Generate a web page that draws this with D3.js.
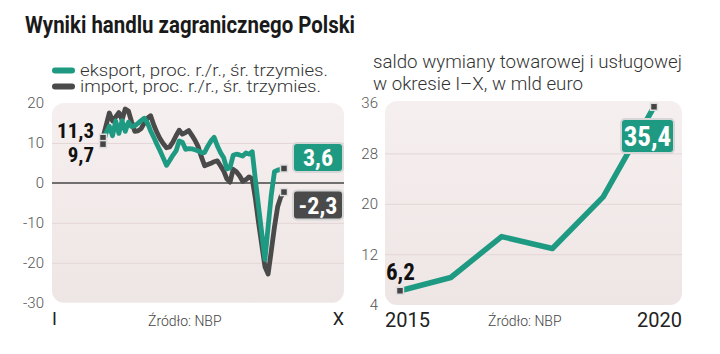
<!DOCTYPE html>
<html>
<head>
<meta charset="utf-8">
<script src="https://cdn.jsdelivr.net/npm/d3@7"></script>
<style>
  body { margin: 0; background: #fff; }
  svg { display: block; }
  .cond { font-family: "Roboto Condensed", "Liberation Sans Narrow", "DejaVu Sans Condensed", Roboto, sans-serif; font-weight: bold; }
  .thin { font-family: Roboto, "Noto Sans", sans-serif; font-weight: 300; }
</style>
</head>
<body>
<svg width="720" height="354"></svg>
<script>
// eksport / import, proc. r/r, srednia trzymiesieczna (miesiecznie)
const exportData = [9.7, 12.5, 14.2, 11.8, 15.5, 12.4, 15.6, 12.9, 15.2, 14.1,
    14.3, 14.9, 15.6, 16.2, 15.0, 13.0, 11.4, 9.6, 8.0, 6.2,
    4.4, 5.6, 6.9, 8.0, 10.5, 10.2, 8.4, 8.6, 8.5, 8.3,
    8.0, 7.6, 7.6, 9.2, 10.5, 11.4, 9.3, 7.6, 6.3, 3.5,
    3.8, 6.9, 7.2, 7.0, 6.7, 7.5, 7.2, 7.8, 0.7, -6.0,
    -12.6, -19.2, -11.0, -3.0, 2.8, 3.2, 3.4, 3.6];
const importData = [11.3, 14.5, 17.5, 15.5, 16.5, 17.6, 15.8, 18.5, 18.0, 15.3,
    12.9, 13.0, 13.6, 15.0, 16.2, 16.8, 14.5, 12.6, 11.0, 9.8,
    8.8, 9.0, 10.2, 11.8, 13.2, 12.2, 12.6, 13.1, 11.9, 10.6,
    9.0, 6.5, 4.3, 4.6, 4.9, 5.3, 5.5, 4.3, 3.0, 1.0,
    0.2, 3.4, 2.8, 1.8, 0.4, 0.8, 1.5, 1.0, -4.0, -10.0,
    -15.5, -21.0, -22.8, -17.0, -11.0, -6.0, -3.5, -2.3];
const leftTicks = [20, 10, 0, -10, -20, -30];

// saldo wymiany towarowej i uslugowej, I-X, mld euro
const years = [2015, 2016, 2017, 2018, 2019, 2020];
const saldo = [6.2, 8.3, 14.8, 12.9, 21.1, 35.4];
const rightTicks = [36, 28, 20, 12, 4];

const green = "#1f9a82";
const dark = "#4a4a4a";

const pl = d3.formatLocale({decimal: ",", thousands: " ", grouping: [3], currency: ["", " zł"], minus: "-"});
const fmt = pl.format(".1f");
const tickFmt = pl.format("d");

const svg = d3.select("svg");

const defs = svg.append("defs");
const grad = defs.append("linearGradient").attr("id", "bg").attr("x1", 0).attr("y1", 0).attr("x2", 0).attr("y2", 1);
grad.append("stop").attr("offset", "0%").attr("stop-color", "#f6efef");
grad.append("stop").attr("offset", "100%").attr("stop-color", "#eee6e5");

// title + legend
svg.append("text").attr("x", 25).attr("y", 33)
    .attr("font-family", "Roboto, sans-serif").attr("font-weight", "bold").attr("font-size", 23)
    .attr("fill", "#1a1a1a").attr("textLength", 330).attr("lengthAdjust", "spacingAndGlyphs")
    .text("Wyniki handlu zagranicznego Polski");

var legend = [
    {label: "eksport, proc. r./r., śr. trzymies.", color: green, y: 70.5, len: 248},
    {label: "import, proc. r./r., śr. trzymies.", color: dark, y: 86.5, len: 241}
];
legend.forEach(function (d) {
    svg.append("line").attr("x1", 55).attr("x2", 72).attr("y1", d.y).attr("y2", d.y)
        .attr("stroke", d.color).attr("stroke-width", 6).attr("stroke-linecap", "round");
    svg.append("text").attr("class", "thin").attr("x", 80).attr("y", d.y + 5.5)
        .attr("font-size", 16).attr("fill", "#333")
        .attr("textLength", d.len).attr("lengthAdjust", "spacingAndGlyphs")
        .text(d.label);
});

svg.append("text").attr("class", "thin").attr("x", 373).attr("y", 68)
    .attr("font-size", 18).attr("fill", "#333")
    .attr("textLength", 309).attr("lengthAdjust", "spacingAndGlyphs")
    .text("saldo wymiany towarowej i usługowej");
svg.append("text").attr("class", "thin").attr("x", 373).attr("y", 90)
    .attr("font-size", 18).attr("fill", "#333")
    .attr("textLength", 210).attr("lengthAdjust", "spacingAndGlyphs")
    .text("w okresie I–X, w mld euro");

// ---------- left chart ----------
const L = {left: 52, right: 344};
const yL = d3.scaleLinear().domain([-30, 20]).range([302.7, 103]);
const xL = d3.scaleLinear().domain([0, exportData.length - 1]).range([103, 284]);

svg.append("rect").attr("x", L.left).attr("y", yL(20)).attr("width", L.right - L.left)
    .attr("height", yL(-30) - yL(20)).attr("rx", 12).attr("fill", "url(#bg)");

const axL = svg.append("g").attr("transform", `translate(${L.left},0)`)
    .call(d3.axisLeft(yL).tickValues(leftTicks).tickFormat(tickFmt)
        .tickSize(-(L.right - L.left)).tickPadding(8));
axL.select(".domain").remove();
axL.selectAll(".tick line").attr("stroke", "#e4d6d6").attr("stroke-width", 1)
    .filter(d => d == 20 || d == -30 || d == 0).remove();
axL.selectAll(".tick text").attr("class", "thin").attr("font-size", 15).attr("fill", "#555");

svg.append("line").attr("x1", L.left).attr("x2", L.right).attr("y1", yL(0)).attr("y2", yL(0))
    .attr("stroke", "#444").attr("stroke-width", 1.5);

const lineL = d3.line().x((d, i) => xL(i)).y(d => yL(d));
svg.append("path").datum(importData).attr("d", lineL).attr("fill", "none")
    .attr("stroke", dark).attr("stroke-width", 4.8).attr("stroke-linejoin", "round");
svg.append("path").datum(exportData).attr("d", lineL).attr("fill", "none")
    .attr("stroke", green).attr("stroke-width", 4.8).attr("stroke-linejoin", "round");

function marker(x, y) {
    svg.append("rect").attr("x", x - 3.5).attr("y", y - 3.5).attr("width", 7).attr("height", 7)
        .attr("fill", "#444").attr("stroke", "#ddd").attr("stroke-width", 1.5);
}
function valueBox(cx, cy, w, h, color, txt, size) {
    svg.append("rect").attr("x", cx - w / 2).attr("y", cy - h / 2).attr("width", w).attr("height", h)
        .attr("rx", 4).attr("fill", color).attr("stroke", "#d6d6d6").attr("stroke-width", 2);
    svg.append("text").attr("class", "cond").attr("x", cx).attr("y", cy).attr("dy", "0.36em")
        .attr("text-anchor", "middle").attr("font-size", size).attr("fill", "#fff").text(txt);
}

var nL = exportData.length - 1;
marker(xL(0), yL(importData[0]));
marker(xL(0), yL(exportData[0]));
marker(xL(nL), yL(exportData[nL]));
marker(xL(nL), yL(importData[nL]));

svg.append("text").attr("class", "cond").attr("x", 94).attr("y", 138).attr("text-anchor", "end")
    .attr("font-size", 21).attr("fill", "#111").text(fmt(importData[0]));
svg.append("text").attr("class", "cond").attr("x", 94).attr("y", 162).attr("text-anchor", "end")
    .attr("font-size", 21).attr("fill", "#111").text(fmt(exportData[0]));

valueBox(318, 157.5, 50, 29, green, fmt(exportData[nL]), 24);
valueBox(318, 205, 50, 29, dark, fmt(importData[nL]), 24);

svg.append("text").attr("x", L.left).attr("y", 325).attr("font-family", "Roboto, sans-serif")
    .attr("font-size", 18).attr("fill", "#222").text("I");
svg.append("text").attr("x", L.right).attr("y", 325).attr("text-anchor", "end").attr("font-family", "Roboto, sans-serif")
    .attr("font-size", 18).attr("fill", "#222").text("X");
svg.append("text").attr("class", "thin").attr("x", 148).attr("y", 326)
    .attr("font-size", 14).attr("fill", "#444").text("Źródło: NBP");

// ---------- right chart ----------
const R = {left: 385, right: 682};
const yR = d3.scaleLinear().domain([4, 36]).range([304.6, 103]);
const xR = d3.scaleLinear().domain([2015, 2020]).range([400, 654]);

svg.append("rect").attr("x", R.left).attr("y", 101).attr("width", R.right - R.left)
    .attr("height", 204).attr("rx", 12).attr("fill", "url(#bg)");

const axR = svg.append("g").attr("transform", `translate(${R.left},0)`)
    .call(d3.axisLeft(yR).tickValues(rightTicks).tickFormat(tickFmt)
        .tickSize(-(R.right - R.left)).tickPadding(7));
axR.select(".domain").remove();
axR.selectAll(".tick line").attr("stroke", "#e4d6d6").attr("stroke-width", 1)
    .filter(d => d == 36 || d == 4).remove();
axR.selectAll(".tick text").attr("class", "thin").attr("font-size", 15).attr("fill", "#555");

const lineR = d3.line().x((d, i) => xR(years[i])).y(d => yR(d));
svg.append("path").datum(saldo).attr("d", lineR).attr("fill", "none")
    .attr("stroke", green).attr("stroke-width", 5.5).attr("stroke-linejoin", "round");

var nR = saldo.length - 1;
marker(xR(years[0]), yR(saldo[0]));
marker(xR(years[nR]), yR(saldo[nR]));

svg.append("text").attr("class", "cond").attr("x", 386).attr("y", 280)
    .attr("font-size", 23).attr("fill", "#111").text(fmt(saldo[0]));
valueBox(647.5, 136, 53, 34, green, fmt(saldo[nR]), 27);

svg.append("text").attr("x", R.left).attr("y", 327).attr("font-family", "Roboto, sans-serif")
    .attr("font-size", 20).attr("fill", "#222").text(years[0]);
svg.append("text").attr("x", R.right).attr("y", 327).attr("text-anchor", "end").attr("font-family", "Roboto, sans-serif")
    .attr("font-size", 20).attr("fill", "#222").text(years[nR]);
svg.append("text").attr("class", "thin").attr("x", 488).attr("y", 326)
    .attr("font-size", 14).attr("fill", "#444").text("Źródło: NBP");
</script>
</body>
</html>
